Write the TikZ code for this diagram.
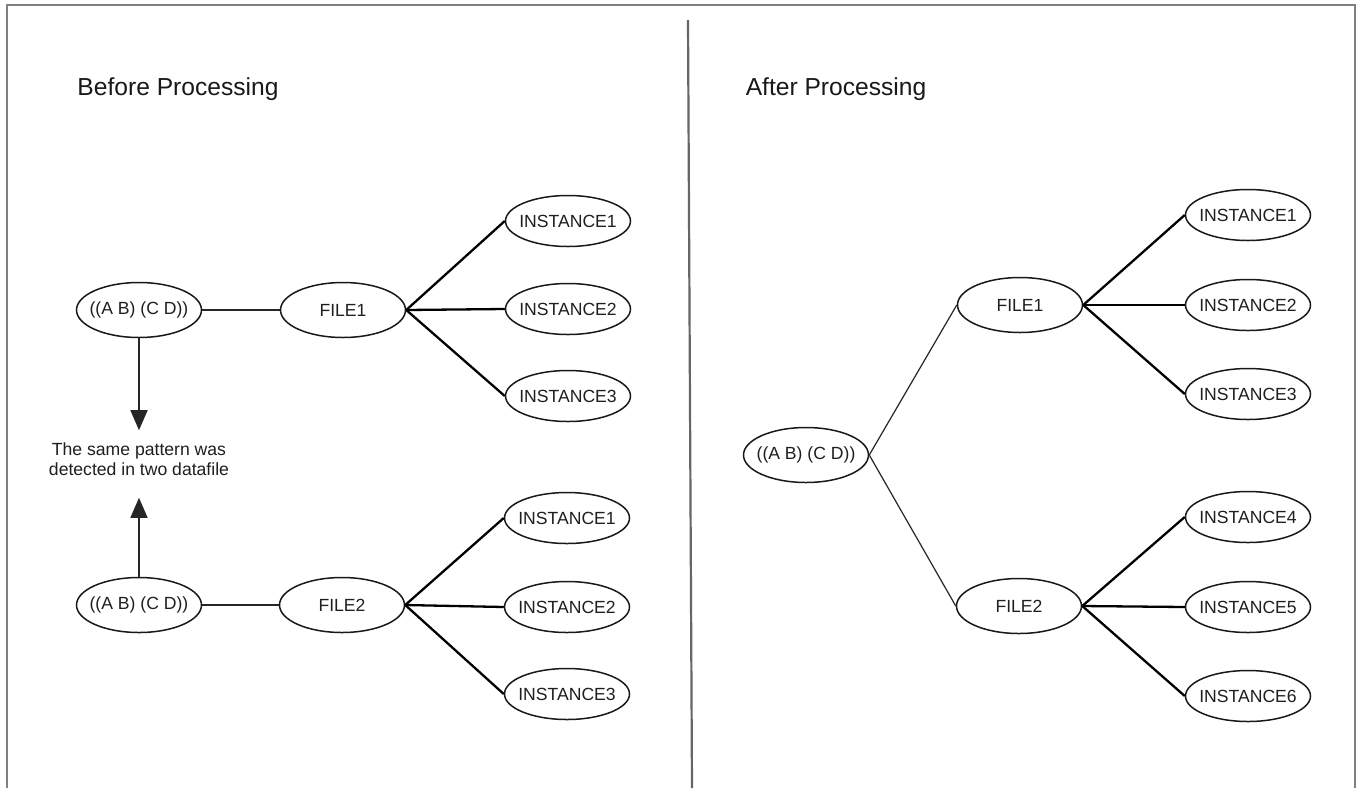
\documentclass[tikz,border=0pt]{standalone}
\usepackage{fontspec}
\setmainfont{Liberation Sans}
\usetikzlibrary{shapes.geometric,arrows.meta}
% label of fixed width zero, so that the oval keeps its own size
\newcommand\elabel[1]{\makebox[0pt]{#1}}
\begin{document}
\begin{tikzpicture}[x=0.5pt,y=-0.5pt,
  every node/.style={font=\fontsize{8.8}{9.9}\selectfont, text=black!88},
  oval/.style={ellipse, draw=black!90, line width=0.75pt, inner sep=0pt,
    minimum width=62.5pt, minimum height=27.5pt},
  inst/.style={oval, minimum height=25.5pt},
  thin link/.style={draw=black!85, line width=0.6pt},
  thick link/.style={draw=black, line width=1.15pt},
  pointer/.style={draw=black!85, line width=0.7pt, -{Triangle[width=8.5pt,length=10pt]}},
  heading/.style={font=\fontsize{12.3}{14}\selectfont, text=black!90},
  frame/.style={draw=black!50, line width=0.9pt}]

% canvas
\fill[white] (0,0) rectangle (1360,788);
\useasboundingbox (0,0) rectangle (1360,788);
\draw[frame] (7,788) -- (7,5) -- (1355,5) -- (1355,788);
\draw[frame, draw=black!60, line width=1.1pt] (688,20) -- (692,788);

% ---------- left half ----------
\node[heading] (hb) at (178,89) {Before Processing};

\node[oval] (ab1) at (139,310) {\elabel{((A B) (C D))}};
\node[oval] (f1)  at (343,310) {\elabel{FILE1}};
\node[inst] (a1)  at (568,221) {\elabel{INSTANCE1}};
\node[inst] (a2)  at (568,309) {\elabel{INSTANCE2}};
\node[inst] (a3)  at (568,396) {\elabel{INSTANCE3}};

\node[align=center, inner ysep=6pt] (note) at (139,459)
  {The same pattern was\\detected in two datafile};

\node[oval] (ab2) at (139,605) {\elabel{((A B) (C D))}};
\node[oval] (f2)  at (342,605) {\elabel{FILE2}};
\node[inst] (b1)  at (567,518) {\elabel{INSTANCE1}};
\node[inst] (b2)  at (567,607) {\elabel{INSTANCE2}};
\node[inst] (b3)  at (567,694) {\elabel{INSTANCE3}};

\draw[thin link] (ab1.east) -- (f1.west);
\draw[thin link] (ab2.east) -- (f2.west);
\foreach \t in {a1,a2,a3} \draw[thick link] (f1.east) -- (\t.west);
\foreach \t in {b1,b2,b3} \draw[thick link] (f2.east) -- (\t.west);
\draw[pointer] (ab1.south) -- (note.north);
\draw[pointer] (ab2.north) -- ([yshift=-5pt]note.south);

% ---------- right half ----------
\node[heading] (ha) at (836,89) {After Processing};

\node[oval] (ab3) at (806,455) {\elabel{((A B) (C D))}};
\node[oval] (f3)  at (1020,305) {\elabel{FILE1}};
\node[oval] (f4)  at (1019,606) {\elabel{FILE2}};
\node[inst] (c1)  at (1248,215) {\elabel{INSTANCE1}};
\node[inst] (c2)  at (1248,305) {\elabel{INSTANCE2}};
\node[inst] (c3)  at (1248,394) {\elabel{INSTANCE3}};
\node[inst] (c4)  at (1248,517) {\elabel{INSTANCE4}};
\node[inst] (c5)  at (1248,607) {\elabel{INSTANCE5}};
\node[inst] (c6)  at (1248,696) {\elabel{INSTANCE6}};

\draw[thin link] (ab3.east) -- (f3.west);
\draw[thin link] (ab3.east) -- (f4.west);
\foreach \t in {c1,c2,c3} \draw[thick link] (f3.east) -- (\t.west);
\foreach \t in {c4,c5,c6} \draw[thick link] (f4.east) -- (\t.west);
\end{tikzpicture}
\end{document}
